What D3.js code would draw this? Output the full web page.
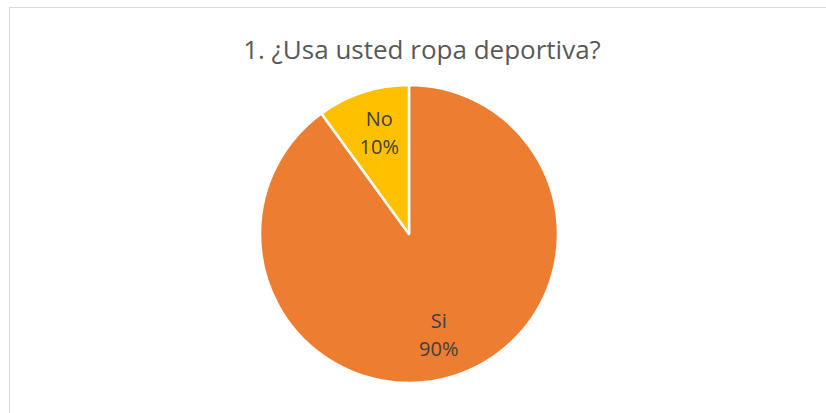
<!DOCTYPE html>
<html>
<head>
<meta charset="utf-8">
<script src="https://cdn.jsdelivr.net/npm/d3@7"></script>
<style>
  html, body { margin: 0; padding: 0; background: #fff; }
  svg { display: block; }
</style>
</head>
<body>
<svg id="chart" width="826" height="413"></svg>
<script>
// data
const categories = ['Si', 'No'];
const values = [90, 10];
const colors = ['#ED7D31', '#FFC000'];
const title = '1. ¿Usa usted ropa deportiva?';

const W = 826, H = 413;
const cx = 409, cy = 234, R = 149;
const font = '"Open Sans", "Noto Sans", sans-serif';

const svg = d3.select('#chart');

// chart frame (runs past right/bottom edges)
svg.append('rect')
  .attr('x', 9.5).attr('y', 7.5)
  .attr('width', W + 20).attr('height', H + 20)
  .attr('fill', '#fff')
  .attr('stroke', '#d9d9d9')
  .attr('stroke-width', 1);

svg.append('text')
  .attr('x', 422).attr('y', 59)
  .attr('text-anchor', 'middle')
  .attr('font-family', font)
  .attr('font-size', 26)
  .attr('fill', '#595959')
  .text(title);

const slices = d3.pie().sort(null)(values);
const arc = d3.arc().innerRadius(0).outerRadius(R);
const labelArc = d3.arc().innerRadius(106).outerRadius(106);

const g = svg.append('g').attr('transform', `translate(${cx},${cy})`);

g.selectAll('path')
  .data(slices)
  .join('path')
  .attr('d', arc)
  .attr('fill', (d, i) => colors[i])
  .attr('stroke', '#fff')
  .attr('stroke-width', 2.5)
  .attr('stroke-linejoin', 'round');

const total = d3.sum(values);
const lbl = g.selectAll('text.lbl')
  .data(slices)
  .join('text')
  .attr('class', 'lbl')
  .attr('transform', d => {
    const [x, y] = labelArc.centroid(d);
    // nudge toward the vertical like the original text boxes
    return `translate(${x - Math.sign(x) * 3},${y})`;
  })
  .attr('text-anchor', 'middle')
  .attr('font-family', font)
  .attr('font-size', 20)
  .attr('fill', '#404040');

lbl.append('tspan').attr('x', 0).attr('y', -7).text((d, i) => categories[i]);
lbl.append('tspan').attr('x', 0).attr('y', 21)
  .text(d => Math.round(d.value / total * 100) + '%');
</script>
</body>
</html>
